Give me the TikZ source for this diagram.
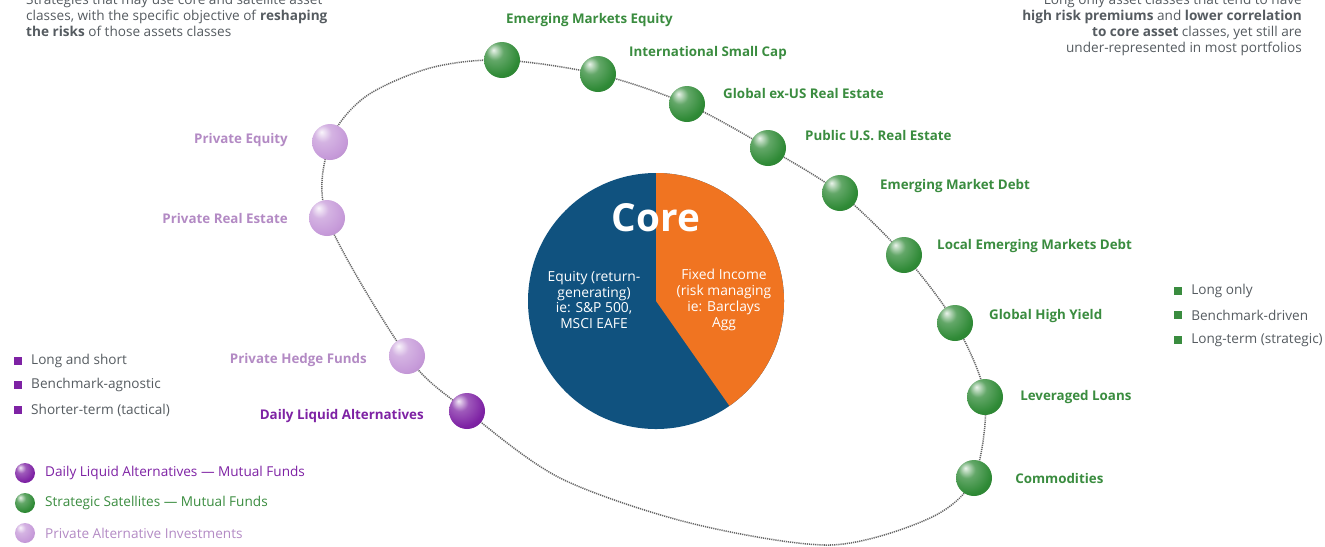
\documentclass[tikz,border=0pt]{standalone}
\usepackage{fontspec}
\setmainfont{Open Sans}
\usetikzlibrary{positioning,backgrounds}
\definecolor{satgreen}{HTML}{2F8A36}
\definecolor{txtgreen}{HTML}{3A8C3F}
\definecolor{altpurple}{HTML}{7E22A4}
\definecolor{privlilac}{HTML}{C69AD9}
\definecolor{privtext}{HTML}{B38AC4}
\definecolor{liqtext}{HTML}{7E22A4}
\definecolor{coreblue}{HTML}{10527F}
\definecolor{coreorange}{HTML}{F07421}
\definecolor{notegrey}{HTML}{555B60}
\colorlet{ballcol}{satgreen}
\pgfdeclareradialshading[ballcol]{glossy}{\pgfpoint{-12bp}{14bp}}{%
  color(0bp)=(ballcol!10!white); color(12bp)=(ballcol!75!white);
  color(30bp)=(ballcol); color(55bp)=(ballcol!80!black); color(75bp)=(ballcol!65!black)}
\tikzset{gloss/.style={shading=glossy,/utils/exec={\colorlet{ballcol}{#1}}}}

\begin{document}
\begin{tikzpicture}[x=0.03cm,y=-0.03cm,font=\fontsize{11.6}{13.6}\selectfont,
  ball/.style={circle,minimum size=1.08cm,inner sep=0pt,outer sep=0pt},
  sat/.style={ball,gloss=satgreen},
  liq/.style={ball,gloss=altpurple},
  priv/.style={ball,gloss=privlilac},
  glbl/.style={font=\fontsize{11.4}{12}\selectfont\bfseries,text=txtgreen,anchor=west,inner sep=0pt},
  plbl/.style={font=\fontsize{11.4}{12}\selectfont\bfseries,text=privtext,anchor=east,inner sep=0pt},
  note/.style={text=notegrey,inner sep=0pt},
  sq/.style={rectangle,minimum size=0.24cm,inner sep=0pt},
  key/.style={circle,minimum size=0.6cm,inner sep=0pt},
  orbit/.style={draw=black!60,line width=1.3pt,dash pattern=on 1pt off 0.8pt}]

\useasboundingbox (0,0) rectangle (1325,546);

\node[note,anchor=north west,align=left] (strat) at (26,-6)
  {Strategies that may use core and satellite asset\\
   classes, with the specific objective of \textbf{reshaping}\\
   \textbf{the risks} of those assets classes};
\node[note,anchor=north east,align=right] (longonly) at (1302,-6)
  {Long only asset classes that tend to have\\
   \textbf{high risk premiums} and \textbf{lower correlation}\\
   \textbf{to core asset} classes, yet still are\\
   under-represented in most portfolios};

% core pie
\node[circle,fill=coreblue,minimum size=7.68cm,inner sep=0pt,outer sep=0pt] (core) at (656,301){};
\fill[coreorange] (core.center) -- (core.north) arc[start angle=90,end angle=-55,radius=3.84cm] -- cycle;
\node[font=\fontsize{33}{33}\selectfont\bfseries,text=white] (coret) at (656,218){Core};
\node[align=center,text=white,font=\fontsize{11.8}{13.6}\selectfont] (equity) at (594,300)
  {Equity (return-\\generating)\\ie: S\&P 500,\\MSCI EAFE};
\node[align=center,text=white,font=\fontsize{11.8}{13.6}\selectfont] (fixed) at (724,300)
  {Fixed Income\\(risk managing\\ie: Barclays\\Agg};

% satellites
\node[sat](emeq) at (502,60){};  \node[glbl](emeq-l) at (506,20){Emerging Markets Equity};
\node[sat](isc) at (598,74){};   \node[glbl](isc-l) at (629,53){International Small Cap};
\node[sat](gre) at (687,104){};  \node[glbl](gre-l) at (723,93){Global ex-US Real Estate};
\node[sat](pre) at (768,148){};  \node[glbl](pre-l) at (805,136){Public U.S. Real Estate};
\node[sat](emd) at (840,193){};  \node[glbl](emd-l) at (880,186){Emerging Market Debt};
\node[sat](lemd) at (904,255){}; \node[glbl](lemd-l) at (937,246){Local Emerging Markets Debt};
\node[sat](ghy) at (955,323){};  \node[glbl](ghy-l) at (989,316){Global High Yield};
\node[sat](lev) at (985,397){};  \node[glbl](lev-l) at (1020,397){Leveraged Loans};
\node[sat](com) at (974,478){};  \node[glbl](com-l) at (1015,478){Commodities};

\node[priv](peq) at (330,142){}; \node[plbl](peq-l) at (288,140){Private Equity};
\node[priv](pres) at (327,218){};\node[plbl](pres-l) at (288,218){Private Real Estate};
\node[priv](phf) at (407,356){}; \node[plbl](phf-l) at (367,360){Private Hedge Funds};
\node[liq](dla) at (467,411){};  \node[plbl,text=liqtext](dla-l) at (424,416){Daily Liquid Alternatives};

\coordinate (b1) at (930,518); \coordinate (b2) at (830,545);
\coordinate (b3) at (690,523); \coordinate (b4) at (560,478);
\coordinate (t1) at (365,97);  \coordinate (t2) at (430,68);

\begin{scope}[on background layer]
\draw[orbit] plot[smooth cycle] coordinates {(emeq.center) (isc.center) (gre.center)
  (pre.center) (emd.center) (lemd.center) (ghy.center) (lev.center) (com.center)
  (b1) (b2) (b3) (b4) (dla.center) (phf.center) (pres.center) (peq.center) (t1) (t2)};
\end{scope}

% legends
\node[sq,fill=liqtext](ls1) at (18,361){}; \node[note,anchor=west](ls1-l) at (31,361){Long and short};
\node[sq,fill=liqtext](ls2) at (18,385){}; \node[note,anchor=west](ls2-l) at (31,385){Benchmark-agnostic};
\node[sq,fill=liqtext](ls3) at (18,410){}; \node[note,anchor=west](ls3-l) at (31,410){Shorter-term (tactical)};

\node[sq,fill=txtgreen](rs1) at (1178,291){}; \node[note,anchor=west](rs1-l) at (1191,291){Long only};
\node[sq,fill=txtgreen](rs2) at (1178,315){}; \node[note,anchor=west](rs2-l) at (1191,315){Benchmark-driven};
\node[sq,fill=txtgreen](rs3) at (1178,340){}; \node[note,anchor=west](rs3-l) at (1191,340){Long-term (strategic)};

\node[key,gloss=altpurple](k1) at (25,473){};
\node[anchor=west,inner sep=0pt,text=liqtext](k1-l) at (45,473){Daily Liquid Alternatives — Mutual Funds};
\node[key,gloss=satgreen](k2) at (25,503){};
\node[anchor=west,inner sep=0pt,text=txtgreen](k2-l) at (45,503){Strategic Satellites — Mutual Funds};
\node[key,gloss=privlilac](k3) at (25,533){};
\node[anchor=west,inner sep=0pt,text=privtext](k3-l) at (45,533){Private Alternative Investments};
\end{tikzpicture}
\end{document}
